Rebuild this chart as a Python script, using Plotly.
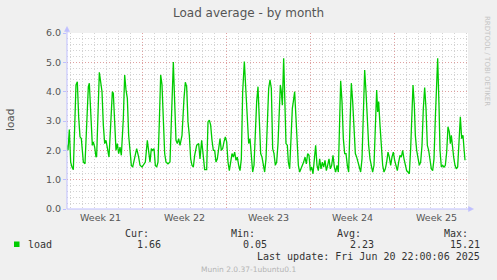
import plotly.graph_objects as go

# ---- data ----
days = [0.0, 0.083, 0.194, 0.306, 0.417, 0.528, 0.750, 0.861, 0.972, 1.083, 1.194, 1.361, 1.500,
        1.778, 1.861, 1.972, 2.111, 2.194, 2.306, 2.417, 2.472, 2.694, 2.806, 2.917, 3.028, 3.139,
        3.250, 3.361, 3.500, 3.639, 3.778, 3.861, 3.972, 4.083, 4.194, 4.306, 4.417, 4.528, 4.694,
        4.806, 4.917, 5.028, 5.139, 5.250, 5.361, 5.472, 5.639, 5.806, 5.972, 6.083, 6.250, 6.361,
        6.528, 6.694, 6.806, 6.917, 7.028, 7.139, 7.250, 7.361, 7.472, 7.583, 7.694, 7.806, 7.917,
        8.028, 8.139, 8.250, 8.417, 8.583, 8.750, 8.861, 8.972, 9.083, 9.194, 9.306, 9.417, 9.583,
        9.750, 9.861, 9.972, 10.083, 10.194, 10.306, 10.417, 10.528, 10.639, 10.806, 10.972, 11.083,
        11.222, 11.361, 11.472, 11.639, 11.750, 11.861, 11.972, 12.083, 12.194, 12.306, 12.417,
        12.528, 12.639, 12.750, 12.861, 12.972, 13.083, 13.194, 13.306, 13.417, 13.528, 13.639,
        13.750, 13.861, 13.972, 14.083, 14.194, 14.306, 14.417, 14.528, 14.639, 14.778, 14.917,
        15.028, 15.139, 15.250, 15.361, 15.472, 15.583, 15.694, 15.806, 15.917, 16.028, 16.139,
        16.250, 16.361, 16.472, 16.583, 16.694, 16.806, 16.917,
        17.028, 17.139, 17.250, 17.361, 17.472, 17.583, 17.694, 17.778, 17.861, 17.944, 18.056,
        18.167, 18.250, 18.361, 18.444, 18.556, 18.667, 18.778, 18.861, 18.972, 19.083, 19.167,
        19.278, 19.389, 19.500, 19.611, 19.722, 19.833, 19.944, 20.056, 20.167, 20.278, 20.389,
        20.500, 20.611, 20.722, 20.833, 20.944, 21.056, 21.167, 21.278, 21.389, 21.500, 21.611,
        21.722, 21.833, 21.944, 22.056, 22.167, 22.278, 22.389, 22.500, 22.611, 22.722, 22.806,
        22.917, 23.028, 23.139, 23.250, 23.361, 23.472, 23.583, 23.694, 23.806, 23.917, 24.028,
        24.139, 24.250, 24.361, 24.472, 24.583, 24.694, 24.806, 24.917, 25.028, 25.139, 25.250,
        25.361, 25.472, 25.583, 25.694, 25.806, 25.889, 25.972, 26.083, 26.194, 26.306, 26.417,
        26.528, 26.639, 26.750, 26.861, 26.972, 27.083, 27.194, 27.306, 27.417, 27.528, 27.639,
        27.750, 27.861, 27.972, 28.083, 28.194, 28.306, 28.417, 28.528, 28.639, 28.750, 28.833,
        28.944, 29.028, 29.139, 29.250, 29.361, 29.472, 29.583, 29.694, 29.806, 29.917, 30.028,
        30.139, 30.250, 30.361, 30.472, 30.583, 30.694, 30.806, 30.889, 31.000, 31.083, 31.194,
        31.306, 31.417, 31.528, 31.639, 31.750, 31.861, 31.944, 32.028, 32.139, 32.222, 32.333,
        32.444, 32.556, 32.667, 32.778, 32.889, 33.000, 33.083, 33.167]

load = [2.17, 2.00, 2.71, 1.60, 1.43, 1.34, 4.23, 4.34, 3.14, 2.46, 2.40, 1.60, 1.54,
        4.17, 4.29, 3.20, 2.17, 2.29, 2.11, 1.77, 1.81, 4.66, 4.34, 4.00, 2.86, 2.23,
        2.34, 2.06, 1.77, 2.86, 4.00, 3.94, 2.97, 2.00, 2.23, 1.89, 2.11, 1.83, 3.09,
        4.57, 4.06, 3.77, 2.51, 2.00, 1.49, 1.43, 1.77, 2.06, 1.77, 1.49, 1.43, 1.49,
        1.60, 2.34, 1.94, 1.60, 2.06, 2.00, 2.06, 1.49, 1.43, 1.60, 2.97, 4.57, 4.23,
        2.97, 1.89, 1.60, 1.54, 1.60, 3.77, 5.01, 3.66, 2.34, 2.23, 2.40, 2.17, 2.51,
        3.77, 4.32, 4.17, 2.97, 2.51, 1.71, 1.49, 1.43, 1.83, 2.17, 2.23, 1.71,
        2.34, 1.77, 1.34, 1.34, 2.97, 3.03, 2.86, 2.34, 2.00, 2.00, 1.60,
        1.71, 2.17, 2.40, 2.00, 2.06, 2.29, 2.46, 2.29, 1.60, 1.31, 1.66,
        1.89, 1.77, 1.94, 1.66, 1.77, 1.49, 1.31, 1.71, 4.00, 5.03, 4.00,
        2.97, 2.23, 2.40, 1.66, 1.26, 1.49, 2.97, 3.66, 4.17, 3.20, 1.89,
        1.77, 1.49, 1.26, 1.71, 2.86, 4.11, 4.40,
        4.11, 2.06, 1.89, 1.49, 1.60, 2.23, 3.66, 4.23, 4.00, 3.54, 5.14,
        3.77, 2.23, 2.17, 1.60, 1.37, 2.63, 3.43, 3.66, 4.00, 3.09, 2.29,
        1.49, 1.26, 1.37, 1.49, 1.60, 1.77, 1.54, 1.89, 1.83, 1.31, 1.43,
        1.20, 1.71, 2.17, 1.49, 1.31, 1.71, 1.37, 1.60, 1.43, 1.66, 1.31,
        1.49, 1.71, 1.37, 1.49, 1.83, 1.43, 1.26, 1.49, 1.26, 2.86, 4.37,
        3.66, 2.40, 1.89, 1.89, 1.49, 1.26, 2.86, 4.29, 3.66, 2.51, 1.89,
        1.77, 1.60, 1.37, 1.26, 1.71, 3.43, 4.74, 4.00, 3.03, 2.17, 1.71,
        1.43, 1.26, 1.49, 2.86, 4.06, 3.31, 3.66, 2.86, 2.06, 1.49, 1.26,
        1.37, 1.60, 1.94, 1.77, 1.49, 1.77, 1.94, 1.66, 1.43, 1.31, 1.60,
        1.83, 1.77, 2.00, 1.71, 1.49, 1.31, 1.26, 1.20, 2.06, 3.43, 4.23,
        3.54, 2.51, 2.00, 1.77, 1.49, 1.60, 2.17, 3.43, 4.14, 3.43, 2.17,
        2.00, 1.71, 1.37, 1.31, 1.71, 3.09, 4.46, 5.14, 3.54, 2.00, 1.43,
        1.49, 1.43, 1.49, 1.94, 2.80, 2.63, 2.23, 2.51, 1.94, 1.77, 1.49,
        1.37, 1.43, 2.17, 3.14, 2.40, 2.51, 2.06, 1.66]

week_labels = ["Week 21", "Week 22", "Week 23", "Week 24", "Week 25"]
week_bounds = [6.31, 13.31, 20.31, 27.31]
y_ticks = [0, 1, 2, 3, 4, 5, 6]
y_tick_labels = ["0.0", "1.0", "2.0", "3.0", "4.0", "5.0", "6.0"]
stat_names = ["Cur:", "Min:", "Avg:", "Max:"]
stat_values = ["1.66", "0.05", "2.23", "15.21"]
series_name = "load"
title_text = "Load average - by month"
last_update = "Last update: Fri Jun 20 22:00:06 2025"
footer = "Munin 2.0.37-1ubuntu0.1"
watermark = "RRDTOOL / TOBI OETIKER"

# ---- layout geometry (pixels) ----
W, H = 497, 280
L, R, T, B = 67, 29, 33, 71
PW, PH = W - L - R, H - T - B
X_SPAN = PW / 12.0  # 12 px per day


def pxx(px):
    return (px - L) / PW


def pxy(py):
    return (H - B - py) / PH


GREEN = "#00CC00"
AXIS = "#BFBFFF"
MAJOR = "rgba(230,140,140,0.7)"
MINOR = "rgba(200,200,200,0.8)"
SANS = "DejaVu Sans"
MONO = "DejaVu Sans Mono"

fig = go.Figure()
fig.add_trace(go.Scatter(x=days, y=load, mode="lines",
                         line=dict(color=GREEN, width=1.3), hoverinfo="skip",
                         showlegend=False))

fig.update_layout(
    width=W, height=H,
    margin=dict(l=L, r=R, t=T, b=B, autoexpand=False),
    paper_bgcolor="#F0F0F0", plot_bgcolor="#FFFFFF",
    showlegend=False,
    xaxis=dict(range=[0, X_SPAN], tickmode="array", tickvals=week_bounds,
               ticktext=["" for _ in week_bounds], showgrid=True,
               gridcolor=MAJOR, griddash="1px,2px", gridwidth=1,
               zeroline=False, showline=False, ticks="",
               minor=dict(tick0=0.31, dtick=1, showgrid=True, gridcolor=MINOR,
                          griddash="1px,2px", gridwidth=1),
               fixedrange=True),
    yaxis=dict(range=[0, 6], tickmode="array", tickvals=y_ticks, ticktext=y_tick_labels,
               showgrid=True, gridcolor=MAJOR, griddash="1px,2px", gridwidth=1,
               zeroline=False, showline=False, ticks="outside", ticklen=3,
               tickcolor=AXIS,
               tickfont=dict(family=SANS, size=9.5, color="#555555"),
               minor=dict(dtick=0.2, showgrid=True, gridcolor=MINOR,
                          griddash="1px,2px", gridwidth=1),
               fixedrange=True),
    font=dict(family=SANS, color="#555555"),
)

annotations = []
# title
annotations.append(dict(text=title_text, xref="paper", yref="paper", x=pxx(248.5),
                        y=pxy(13.5), xanchor="center", yanchor="middle", showarrow=False,
                        font=dict(family=SANS, size=12, color="#555555")))
# y axis title
annotations.append(dict(text=series_name, xref="paper", yref="paper", x=pxx(10),
                        y=pxy(120), textangle=-90, xanchor="center", yanchor="middle",
                        showarrow=False, font=dict(family=SANS, size=10.5, color="#555555")))
# week labels (centred between the week boundaries)
centers = [week_bounds[0] - 3.5] + [b + 3.5 for b in week_bounds]
for c, lab in zip(centers, week_labels):
    annotations.append(dict(text=lab, xref="x", yref="paper", x=c, y=0, yshift=-8,
                            xanchor="center", yanchor="middle", showarrow=False,
                            font=dict(family=SANS, size=9.5, color="#555555")))
# watermark
annotations.append(dict(text=watermark, xref="paper", yref="paper", x=pxx(487),
                        y=pxy(61), textangle=90, xanchor="center", yanchor="middle",
                        showarrow=False, font=dict(family=SANS, size=7, color="#C4C4C4")))
# legend
annotations.append(dict(text=series_name, xref="paper", yref="paper", x=pxx(26),
                        y=pxy(244.3), xanchor="left", yanchor="middle", showarrow=False,
                        font=dict(family=MONO, size=10, color="#333333")))
name_right = [150.5, 257.3, 363.3, 470.0]
val_right = [162.7, 269.3, 375.7, 482.3]
for nm, v, nr, vr in zip(stat_names, stat_values, name_right, val_right):
    annotations.append(dict(text=nm, xref="paper", yref="paper", x=pxx(nr), y=pxy(233.3),
                            xanchor="right", yanchor="middle", showarrow=False,
                            font=dict(family=MONO, size=10, color="#333333")))
    annotations.append(dict(text=v, xref="paper", yref="paper", x=pxx(vr), y=pxy(244.3),
                            xanchor="right", yanchor="middle", showarrow=False,
                            font=dict(family=MONO, size=10, color="#333333")))
annotations.append(dict(text=last_update, xref="paper", yref="paper", x=pxx(482.3),
                        y=pxy(256), xanchor="right", yanchor="middle", showarrow=False,
                        font=dict(family=MONO, size=10, color="#333333")))
annotations.append(dict(text=footer, xref="paper", yref="paper", x=pxx(248),
                        y=pxy(269.3), xanchor="center", yanchor="middle", showarrow=False,
                        font=dict(family=SANS, size=7.5, color="#B4B4B4")))
fig.update_layout(annotations=annotations)

# axis lines with arrows + legend swatch (decoration)
shapes = [
    dict(type="line", xref="paper", yref="paper", x0=pxx(67), x1=pxx(469), y0=0, y1=0,
         line=dict(color=AXIS, width=1), layer="above"),
    dict(type="line", xref="paper", yref="paper", x0=0, x1=0, y0=0, y1=pxy(31),
         line=dict(color=AXIS, width=1), layer="above"),
    dict(type="path", xref="paper", yref="paper",
         path=f"M {pxx(468.5)},{pxy(206.5)} L {pxx(473.5)},{pxy(209)} L {pxx(468.5)},{pxy(211.5)} Z",
         fillcolor=AXIS, line=dict(color=AXIS, width=0.5), layer="above"),
    dict(type="path", xref="paper", yref="paper",
         path=f"M {pxx(64.5)},{pxy(31.5)} L {pxx(67)},{pxy(26.5)} L {pxx(69.5)},{pxy(31.5)} Z",
         fillcolor=AXIS, line=dict(color=AXIS, width=0.5), layer="above"),
    dict(type="rect", xref="paper", yref="paper", x0=pxx(14), x1=pxx(19.5),
         y0=pxy(247), y1=pxy(241.5), fillcolor=GREEN, line=dict(width=0)),
]
fig.update_layout(shapes=shapes)

fig.write_html("out.html")
